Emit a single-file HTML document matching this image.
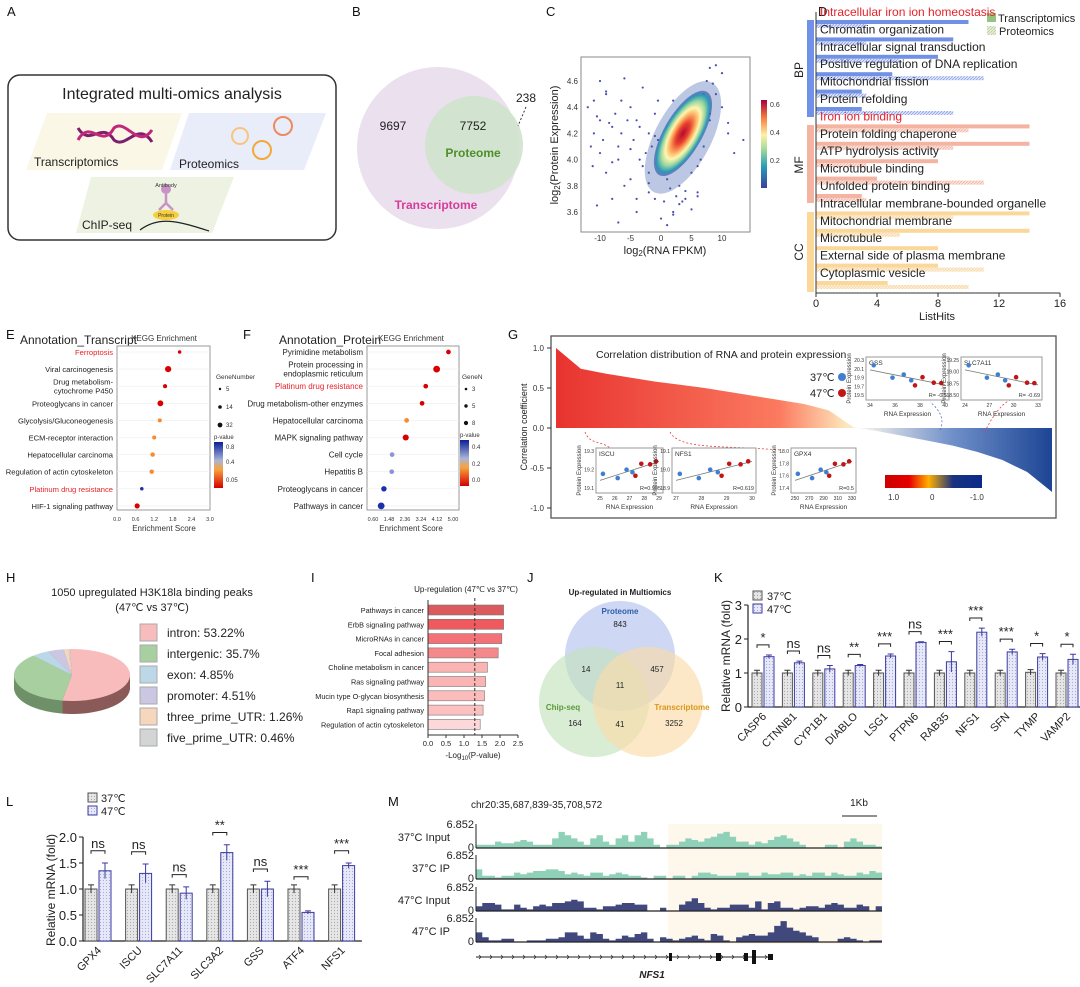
<!DOCTYPE html>
<html><head><meta charset="utf-8"><style>
html,body{margin:0;padding:0;background:#fff}
svg{display:block;font-family:"Liberation Sans",Arial,sans-serif}
</style></head><body>
<svg id="fig" width="1080" height="987" viewBox="0 0 1080 987" xmlns="http://www.w3.org/2000/svg">
<defs>
<pattern id="hatchB" width="3" height="3" patternUnits="userSpaceOnUse"><rect width="3" height="3" fill="#dfe6fb"/><path d="M0,3L3,0" stroke="#8aa0e8" stroke-width="0.8"/></pattern>
<pattern id="hatchM" width="3" height="3" patternUnits="userSpaceOnUse"><rect width="3" height="3" fill="#fbe3dc"/><path d="M0,3L3,0" stroke="#f0b3a2" stroke-width="0.8"/></pattern>
<pattern id="hatchC" width="3" height="3" patternUnits="userSpaceOnUse"><rect width="3" height="3" fill="#fdf0da"/><path d="M0,3L3,0" stroke="#f6d39c" stroke-width="0.8"/></pattern>
<pattern id="hatchG" width="3" height="3" patternUnits="userSpaceOnUse"><rect width="3" height="3" fill="#e9f0dc"/><path d="M0,3L3,0" stroke="#b9cf9d" stroke-width="0.8"/></pattern>
<pattern id="dotG" width="3" height="3" patternUnits="userSpaceOnUse"><rect width="3" height="3" fill="#e6e6e6"/><circle cx="1.5" cy="1.5" r="0.6" fill="#aaa"/></pattern>
<pattern id="dotP" width="3" height="3" patternUnits="userSpaceOnUse"><rect width="3" height="3" fill="#e8e9f8"/><circle cx="1.5" cy="1.5" r="0.6" fill="#a9acdc"/></pattern>
<linearGradient id="gCurve" x1="0" x2="1" y1="0" y2="0"><stop offset="0" stop-color="#e8332f"/><stop offset="0.45" stop-color="#fb7a60"/><stop offset="0.58" stop-color="#fde3b8"/><stop offset="0.62" stop-color="#f4f0ec"/><stop offset="0.8" stop-color="#6f8fc9"/><stop offset="1" stop-color="#1d4595"/></linearGradient>
<linearGradient id="gBar" x1="0" x2="1"><stop offset="0" stop-color="#cc0000"/><stop offset="0.25" stop-color="#e60000"/><stop offset="0.45" stop-color="#ffb000"/><stop offset="0.7" stop-color="#1a3380"/><stop offset="1" stop-color="#0a2a8a"/></linearGradient>
<linearGradient id="gC" x1="0" y1="1" x2="0" y2="0"><stop offset="0" stop-color="#3a3fa0"/><stop offset="0.25" stop-color="#2a9fb5"/><stop offset="0.45" stop-color="#a9dc9a"/><stop offset="0.6" stop-color="#fdf1a6"/><stop offset="0.8" stop-color="#f57c3c"/><stop offset="1" stop-color="#a50040"/></linearGradient>
<linearGradient id="gP" x1="0" y1="1" x2="0" y2="0"><stop offset="0" stop-color="#d40000"/><stop offset="0.4" stop-color="#f9a23c"/><stop offset="0.6" stop-color="#aab4d8"/><stop offset="1" stop-color="#0b1f96"/></linearGradient>
<radialGradient id="cloud"><stop offset="0" stop-color="#b10b32"/><stop offset="0.25" stop-color="#e8412e"/><stop offset="0.45" stop-color="#fdae61"/><stop offset="0.6" stop-color="#fef7b0"/><stop offset="0.75" stop-color="#9fd89f"/><stop offset="0.9" stop-color="#2b9bb8"/><stop offset="1" stop-color="#3b4fa8" stop-opacity="0.6"/></radialGradient>
</defs>

<!-- Panel letters -->
<g font-size="13" fill="#111">
<text x="7" y="16">A</text><text x="352" y="16">B</text><text x="546" y="16">C</text><text x="818" y="16">D</text>
<text x="6" y="339">E</text><text x="243" y="339">F</text><text x="508" y="339">G</text>
<text x="6" y="582">H</text><text x="311" y="582">I</text><text x="527" y="582">J</text><text x="714" y="582">K</text>
<text x="6" y="806">L</text><text x="388" y="806">M</text>
</g>

<!-- Panel A -->
<g>
<rect x="8" y="75" width="328" height="165" rx="12" fill="#fff" stroke="#333" stroke-width="1.5"/>
<text x="172" y="99" text-anchor="middle" font-size="16" fill="#222">Integrated multi-omics analysis</text>
<polygon points="26,170 47,113 182,113 162,170" fill="#fbf7e6"/>
<polygon points="170,170 189,113 326,113 304,170" fill="#e9ecf9"/>
<polygon points="76,233 91,177 234,177 212,233" fill="#eef2e2"/>
<path d="M78,128 C90,148 102,120 114,140 C126,150 138,120 152,142" stroke="#7b1f6e" stroke-width="3" fill="none"/>
<path d="M78,140 C90,118 102,150 114,128 C126,118 138,150 152,130" stroke="#c0287a" stroke-width="3" fill="none"/>
<g fill="none" stroke-width="2"><circle cx="240" cy="136" r="8" stroke="#f7c57d"/><circle cx="283" cy="126" r="9" stroke="#ee8b5e"/><circle cx="262" cy="150" r="9" stroke="#f2a93c"/></g>
<text x="34" y="166" font-size="12" fill="#222">Transcriptomics</text>
<text x="179" y="168" font-size="12" fill="#222">Proteomics</text>
<circle cx="166" cy="189" r="5" fill="#c893c4"/><path d="M166,194 L166,203 M166,203 L159,210 M166,203 L173,210" stroke="#c893c4" stroke-width="2.5" fill="none"/>
<text x="166" y="187" font-size="5.5" text-anchor="middle" fill="#333">Antibody</text>
<ellipse cx="166" cy="215" rx="13" ry="5" fill="#f7cf3e"/><text x="166" y="217" font-size="5" text-anchor="middle" fill="#333">Protein</text>
<path d="M140,230 C160,215 180,222 209,231" stroke="#222" stroke-width="1.3" fill="none"/>
<text x="82" y="229" font-size="12" fill="#222">ChIP-seq</text>
</g>

<!-- Panel B -->
<g>
<circle cx="438" cy="148" r="81" fill="#ebe0ee"/>
<circle cx="474" cy="145" r="49" fill="#cfe3cc" opacity="0.9"/>
<text x="393" y="130" font-size="12" text-anchor="middle" fill="#222">9697</text>
<text x="473" y="130" font-size="12" text-anchor="middle" fill="#222">7752</text>
<text x="473" y="157" font-size="12" font-weight="bold" text-anchor="middle" fill="#4f8f2a">Proteome</text>
<text x="436" y="209" font-size="12" font-weight="bold" text-anchor="middle" fill="#d63b9a">Transcriptome</text>
<text x="526" y="102" font-size="12" text-anchor="middle" fill="#222">238</text>
<path d="M526,107 L518,126" stroke="#333" stroke-dasharray="2,2"/>
</g>

<!-- Panel C -->
<g id="pc">
<rect x="581" y="57" width="169" height="175" fill="#fff" stroke="#888"/>
<text transform="translate(558,145) rotate(-90)" text-anchor="middle" font-size="11" fill="#222">log<tspan font-size="8" dy="2">2</tspan><tspan dy="-2">(Protein Expression)</tspan></text>
<text x="665" y="254" text-anchor="middle" font-size="11" fill="#222">log<tspan font-size="8" dy="2">2</tspan><tspan dy="-2">(RNA FPKM)</tspan></text>
<rect x="761" y="100" width="6" height="88" fill="url(#gC)"/>
<g font-size="7" fill="#333"><text x="770" y="107">0.6</text><text x="770" y="135">0.4</text><text x="770" y="163">0.2</text></g>
</g>

<!-- Panel D -->
<g id="pd">
<rect x="807" y="20" width="7" height="97" fill="#7191e6"/>
<rect x="807" y="125" width="7" height="78" fill="#f5b3a1"/>
<rect x="807" y="212" width="7" height="80" fill="#fcd79a"/>
<text transform="translate(803,70) rotate(-90)" text-anchor="middle" font-size="12" fill="#222">BP</text>
<text transform="translate(803,165) rotate(-90)" text-anchor="middle" font-size="12" fill="#222">MF</text>
<text transform="translate(803,252) rotate(-90)" text-anchor="middle" font-size="12" fill="#222">CC</text>
<rect x="987" y="13" width="9" height="9" fill="#94c47d"/>
<text x="998" y="22" font-size="11" fill="#222">Transcriptomics</text>
<rect x="987" y="26" width="9" height="9" fill="url(#hatchG)"/>
<text x="999" y="35" font-size="11" fill="#222">Proteomics</text>
<text x="937" y="320" text-anchor="middle" font-size="11" fill="#222">ListHits</text>
</g>

<!-- Panel E & F -->
<g id="pe">
<text x="20" y="344" font-size="12" fill="#222">Annotation_Transcript</text>
<text x="164" y="341" font-size="8" text-anchor="middle" fill="#333">KEGG Enrichment</text>
<rect x="117" y="346" width="93" height="164" fill="#fff" stroke="#999"/>
<text x="164" y="531" font-size="8" text-anchor="middle" fill="#333">Enrichment Score</text>
<text x="216" y="379" font-size="6.5" fill="#333">GeneNumber</text>
<circle cx="220" cy="389" r="1.2" fill="#111"/><text x="226" y="391" font-size="6" fill="#333">5</text>
<circle cx="220" cy="407" r="1.8" fill="#111"/><text x="226" y="409" font-size="6" fill="#333">14</text>
<circle cx="220" cy="425" r="2.4" fill="#111"/><text x="226" y="427" font-size="6" fill="#333">32</text>
<text x="214" y="439" font-size="6" fill="#333">p-value</text>
<rect x="214" y="442" width="9" height="46" fill="url(#gP)"/>
<g font-size="6" fill="#333"><text x="226" y="449">0.8</text><text x="226" y="464">0.4</text><text x="226" y="482">0.05</text></g>
</g>
<g id="pf">
<text x="279" y="344" font-size="12" fill="#222">Annotation_Protein</text>
<text x="411" y="341" font-size="8" text-anchor="middle" fill="#333">KEGG Enrichment</text>
<rect x="367" y="346" width="92" height="164" fill="#fff" stroke="#999"/>
<text x="411" y="531" font-size="8" text-anchor="middle" fill="#333">Enrichment Score</text>
<text x="462" y="379" font-size="6.5" fill="#333">GeneN</text>
<circle cx="466" cy="389" r="1.3" fill="#111"/><text x="472" y="391" font-size="6" fill="#333">3</text>
<circle cx="466" cy="406" r="1.7" fill="#111"/><text x="472" y="408" font-size="6" fill="#333">5</text>
<circle cx="466" cy="423" r="2.1" fill="#111"/><text x="472" y="425" font-size="6" fill="#333">8</text>
<text x="460" y="437" font-size="6" fill="#333">p-value</text>
<rect x="460" y="440" width="9" height="46" fill="url(#gP)"/>
<g font-size="6" fill="#333"><text x="472" y="449">0.4</text><text x="472" y="466">0.2</text><text x="472" y="482">0.0</text></g>
</g>

<!-- Panel G -->
<g id="pg">
<rect x="551" y="336" width="505" height="182" fill="#fff" stroke="#555" stroke-width="1.3"/>
<text transform="translate(527,427) rotate(-90)" text-anchor="middle" font-size="9" fill="#222">Correlation coefficient</text>
<text x="596" y="358" font-size="10.5" fill="#222">Correlation distribution of RNA and protein expression</text>
<text x="810" y="381" font-size="11" fill="#222">37℃</text><circle cx="842" cy="377" r="4" fill="#3f7fd0"/>
<text x="810" y="397" font-size="11" fill="#222">47℃</text><circle cx="842" cy="393" r="4" fill="#c01616"/>
<rect x="885" y="475" width="97" height="13" fill="url(#gBar)"/>
<g font-size="8" fill="#333"><text x="888" y="500">1.0</text><text x="930" y="500">0</text><text x="970" y="500">-1.0</text></g>
</g>

<!-- Panel H -->
<g id="ph">
<text x="152" y="596" font-size="11" text-anchor="middle" fill="#222">1050 upregulated H3K18la binding peaks</text>
<text x="152" y="611" font-size="11" text-anchor="middle" fill="#222">(47℃ vs 37℃)</text>
</g>

<!-- Panel I -->
<g id="pi">
<text x="466" y="592" font-size="8" text-anchor="middle" fill="#222">Up-regulation (47℃ vs 37℃)</text>
<text x="473" y="758" font-size="8" text-anchor="middle" fill="#222">-Log<tspan font-size="6" dy="2">10</tspan><tspan dy="-2">(P-value)</tspan></text>
</g>

<!-- Panel J -->
<g>
<text x="620" y="595" font-size="8" font-weight="bold" text-anchor="middle" fill="#222">Up-regulated in Multiomics</text>
<circle cx="620" cy="656" r="55" fill="#b9c6f0" opacity="0.7"/>
<circle cx="594" cy="702" r="55" fill="#c5e2bd" opacity="0.65"/>
<circle cx="648" cy="702" r="55" fill="#fbdca9" opacity="0.65"/>
<g font-size="8" fill="#222" text-anchor="middle">
<text x="620" y="614" font-weight="bold" fill="#2f5fa6">Proteome</text><text x="620" y="627">843</text>
<text x="586" y="672">14</text><text x="657" y="672">457</text><text x="620" y="688">11</text>
<text x="563" y="710" font-weight="bold" fill="#5a9a3a">Chip-seq</text><text x="575" y="726">164</text>
<text x="620" y="727">41</text>
<text x="682" y="710" font-weight="bold" fill="#d9961a">Transcriptome</text><text x="674" y="726">3252</text>
</g>
</g>

<!-- Panels K, L, M containers -->
<g id="pk">
<text transform="translate(730,656) rotate(-90)" text-anchor="middle" font-size="12" fill="#222">Relative mRNA (fold)</text>
<rect x="753" y="591" width="9" height="9" fill="url(#dotG)" stroke="#555"/><text x="767" y="600" font-size="11" fill="#222">37℃</text>
<rect x="753" y="604" width="9" height="9" fill="url(#dotP)" stroke="#3a3aa0"/><text x="767" y="613" font-size="11" fill="#222">47℃</text>
</g>
<g id="pl">
<text transform="translate(55,890) rotate(-90)" text-anchor="middle" font-size="12" fill="#222">Relative mRNA (fold)</text>
<rect x="88" y="793" width="9" height="9" fill="url(#dotG)" stroke="#555"/><text x="101" y="802" font-size="11" fill="#222">37℃</text>
<rect x="88" y="806" width="9" height="9" fill="url(#dotP)" stroke="#3a3aa0"/><text x="101" y="815" font-size="11" fill="#222">47℃</text>
</g>
<g id="pm">
<text x="471" y="808" font-size="10" fill="#222">chr20:35,687,839-35,708,572</text>
<text x="859" y="806" font-size="10" text-anchor="middle" fill="#222">1Kb</text>
<line x1="842" y1="816" x2="877" y2="816" stroke="#222"/>
<rect x="668" y="824" width="214" height="120" fill="#fdf7ec"/>
<text x="652" y="978" font-size="10" font-style="italic" font-weight="bold" text-anchor="middle" fill="#222">NFS1</text>
</g>
</svg>
<script>
const NS='http://www.w3.org/2000/svg';
function mk(tag,a,p){const e=document.createElementNS(NS,tag);for(const k in a)e.setAttribute(k,a[k]);p.appendChild(e);return e;}
function tx(x,y,s,a,p){const e=mk('text',Object.assign({x:x,y:y},a),p);e.textContent=s;return e;}

/* ---------- C scatter ---------- */
const cXTicks=[-10,-5,0,5,10];
const cYTicks=[3.6,3.8,4.0,4.2,4.4,4.6];
const cOutX=[-11,-10.5,-10,-11.5,-9,-8,-7.5,-6,-5,-4,-3,-2,-1,-11,-10,-9.5,-8.5,-7,-6.5,-5.5,-4.5,-3.5,-2.5,-1.5,-0.5,-11.2,-9,-7,-5,-3,-2,-10.5,-8,-6,-4,-1,-12,-10,-8,-3.5,-2,0,1,2,3,5,6,7,8,9,10,11,12,13.5,-6.5,-7,-4,-2,0.5,2,4,6,8,10,11,-9,-5,-1,1,1.5,2.5,3,4,5,6.5,7,8,9,0,-0.5,1,2,3.5,6,7.5,8.5];
const cOutY=[4.45,4.33,4.6,4.1,4.5,4.25,4.35,4.62,4.4,4.3,4.55,4.2,4.35,4.2,4.05,4.15,4.28,4.1,4.2,4.3,4.15,4.25,4.05,4.1,4.45,3.95,3.9,4.0,3.85,3.95,3.75,3.65,3.7,3.8,3.6,3.7,4.4,4.3,3.98,4.0,3.9,3.55,3.5,3.6,3.66,3.62,3.75,4.5,4.7,4.72,4.66,4.28,4.05,4.15,4.45,3.52,3.7,3.82,3.68,3.58,3.7,3.72,4.35,4.4,4.2,4.52,4.08,4.18,3.85,3.78,3.72,3.8,3.76,3.9,4.0,4.1,4.3,4.5,4.0,4.15,4.25,4.45,3.68,3.95,4.6,4.58];
(function(){
 const g=document.getElementById('pc');
 const X=v=>661+v*6.1, Y=v=>81+(4.6-v)*131;
 for(const t of cXTicks){const e=tx(X(t),241,String(t),{'font-size':8,'text-anchor':'middle',fill:'#333'},g);
  
  }
 for(const t of cYTicks){const e=tx(578,Y(t)+3,t.toFixed(1),{'font-size':8,'text-anchor':'end',fill:'#333'},g);
  
  }
 for(let i=0;i<cOutX.length;i++){const e=mk('circle',{cx:X(cOutX[i]),cy:Y(cOutY[i]),r:1.1,fill:'#4a4fb0'},g);
  
  }
 const cx=X(3.6),cy=Y(4.2);
 const halo=mk('ellipse',{cx:cx,cy:cy+4,rx:62,ry:28,fill:'#3b5fb0',opacity:0.35,transform:'rotate(-62 '+cx+' '+(cy+4)+')'},g);
 
 
 const cl=mk('ellipse',{cx:cx,cy:cy,rx:48,ry:19,fill:'url(#cloud)',transform:'rotate(-60 '+cx+' '+cy+')'},g);
 
 
})();

/* ---------- D bars ---------- */
const dTerms=['Intracellular iron ion homeostasis','Chromatin organization','Intracellular signal transduction','Positive regulation of DNA replication','Mitochondrial fission','Protein refolding','Iron ion binding','Protein folding chaperone','ATP hydrolysis activity','Microtubule binding','Unfolded protein binding','Intracellular membrane-bounded organelle','Mitochondrial membrane','Microtubule','External side of plasma membrane','Cytoplasmic vesicle'];
const dGroup=['BP','BP','BP','BP','BP','BP','MF','MF','MF','MF','MF','CC','CC','CC','CC','CC'];
const dTrans=[10,9,8,5,3,3,14,14,8,4,3,14,14,8,8,4.7];
const dProt=[3.3,3.3,5.5,11,3.3,9,10,9,3.3,11,3.3,9,5.5,0,11,10];
const dTicks=[0,4,8,12,16];
(function(){
 const g=document.getElementById('pd');
 const X=v=>816+v*15.25;
 const solid={BP:'#7191e6',MF:'#f5b3a1',CC:'#fcd79a'}, hatch={BP:'url(#hatchB)',MF:'url(#hatchM)',CC:'url(#hatchC)'};
 for(let i=0;i<dTerms.length;i++){
  const y=15+i*17.4;
  const b1=mk('rect',{x:816,y:y+5,width:X(dTrans[i])-816,height:4,fill:solid[dGroup[i]]},g);
  
  
  const b2=mk('rect',{x:816,y:y+9,width:X(dProt[i])-816,height:4,fill:hatch[dGroup[i]]},g);
  
  
  const red=(i===0||i===6);
  const t=tx(820,y+1,dTerms[i],{'font-size':12,fill:red?'#e8222a':'#222'},g);
  
  
 }
 mk('line',{x1:816,y1:12,x2:816,y2:293,stroke:'#333'},g);
 mk('line',{x1:816,y1:293,x2:1060,y2:293,stroke:'#333'},g);
 for(const t of dTicks){mk('line',{x1:X(t),y1:293,x2:X(t),y2:297,stroke:'#333'},g);
  const e=tx(X(t),307,String(t),{'font-size':11,'text-anchor':'middle',fill:'#222'},g);
  
  }
})();

/* ---------- E / F dot plots ---------- */
const eTerms=['Ferroptosis','Viral carcinogenesis','Drug metabolism-|cytochrome P450','Proteoglycans in cancer','Glycolysis/Gluconeogenesis','ECM-receptor interaction','Hepatocellular carcinoma','Regulation of actin cytoskeleton','Platinum drug resistance','HIF-1 signaling pathway'];
const eScore=[2.02,1.65,1.55,1.4,1.38,1.2,1.15,1.12,0.8,0.65];
const ePval=[0.01,0.02,0.05,0.03,0.3,0.35,0.35,0.35,0.9,0.02];
const eCount=[5,20,8,18,8,8,10,10,5,14];
const eTicks=[0.0,0.6,1.2,1.8,2.4,3.0];
const fTerms=['Pyrimidine metabolism','Protein processing in|endoplasmic reticulum','Platinum drug resistance','Drug metabolism-other enzymes','Hepatocellular carcinoma','MAPK signaling pathway','Cell cycle','Hepatitis B','Proteoglycans in cancer','Pathways in cancer'];
const fScore=[4.75,4.1,3.5,3.3,2.45,2.4,1.65,1.63,1.2,1.05];
const fPval=[0.01,0.01,0.03,0.05,0.2,0.05,0.35,0.35,0.45,0.48];
const fCount=[3,6,3,3,3,5,3,3,4,6];
const fTicks=[0.60,1.48,2.36,3.24,4.12,5.00];
function pcol(p,max){const t=Math.min(p/max,1);
 if(t<0.15)return '#d80000'; if(t<0.45)return '#f68a2c'; if(t<0.7)return '#f9b35a'; if(t<0.85)return '#8c93d8'; return '#1b2fae';}
function dotPlot(id,terms,score,pval,count,ticks,x0,x1,vmin,vmax,pmax,rs,redIdx,fs){
 const g=document.getElementById(id);
 const X=v=>x0+(v-vmin)/(vmax-vmin)*(x1-x0);
 const bx0=(id==='pe'?117:367), bx1=(id==='pe'?210:459);
 for(let i=0;i<terms.length;i++){
  const y=352+i*17.1;
  const parts=terms[i].split('|');
  const col=redIdx.includes(i)?'#e8222a':'#222';
  for(let k=0;k<parts.length;k++){
   const t=tx(bx0-4,y+3+(k-(parts.length-1)/2)*9,parts[k],{'font-size':fs,'text-anchor':'end',fill:col},g);
   
   
  }
  mk('line',{x1:bx0,x2:bx1,y1:y,y2:y,stroke:'#eee','stroke-width':0.6},g);
  const c=mk('circle',{cx:X(score[i]),cy:y,r:1.3+count[i]*rs,fill:pcol(pval[i],pmax)},g);
  
  
 }
 for(const t of ticks){const e=tx(X(t),521,t.toFixed(id==='pe'?1:2),{'font-size':5.5,'text-anchor':'middle',fill:'#333'},g);
  
  }
}
dotPlot('pe',eTerms,eScore,ePval,eCount,eTicks,117,210,0,3,0.9,0.09,[0,8],7.6);
dotPlot('pf',fTerms,fScore,fPval,fCount,fTicks,373,453,0.6,5.0,0.48,0.35,[2],8);

/* ---------- G correlation curve ---------- */
const gCorr=[1.0,0.74,0.68,0.63,0.58,0.54,0.5,0.45,0.4,0.35,0.3,0.22,0.01,-0.04,-0.1,-0.16,-0.22,-0.3,-0.4,-0.55,-0.8];
const gTicks=[1.0,0.5,0.0,-0.5,-1.0];
const gInsets=[
 {name:'GSS',x:866,y:357,w:83,h:43,r:'R= -0.5',xt:['34','36','38','40'],yt:['20.3','20.1','19.9','19.7','19.5'],up:false},
 {name:'SLC7A11',x:961,y:357,w:81,h:43,r:'R= -0.69',xt:['24','27','30','33'],yt:['19.25','19.00','18.75','18.50'],up:false},
 {name:'ISCU',x:596,y:448,w:67,h:45,r:'R=0.905',xt:['25','26','27','28','29'],yt:['19.3','19.2','19.1'],up:true},
 {name:'NFS1',x:672,y:448,w:84,h:45,r:'R=0.619',xt:['27','28','29','30'],yt:['19.1','19.0','18.9'],up:true},
 {name:'GPX4',x:791,y:448,w:65,h:45,r:'R=0.5',xt:['250','270','290','310','330'],yt:['18.0','17.8','17.6','17.4'],up:true}];
const gDotsX=[0.05,0.3,0.45,0.55,0.6,0.7,0.85,0.95];
const gDotsY=[0.2,0.6,0.35,0.55,0.75,0.3,0.45,0.4];
(function(){
 const g=document.getElementById('pg');
 const x0=556,x1=1052,Y=v=>428-v*80;
 let d='M'+x0+','+Y(0);
 gCorr.forEach((v,i)=>{d+=' L'+(x0+i*(x1-x0)/(gCorr.length-1)).toFixed(1)+','+Y(v).toFixed(1);});
 d+=' L'+x1+','+Y(0)+'Z';
 const a=mk('path',{d:d,fill:'url(#gCurve)'},g);
 
 
 for(const t of gTicks){mk('line',{x1:547,x2:551,y1:Y(t),y2:Y(t),stroke:'#333'},g);
  const e=tx(544,Y(t)+3,t.toFixed(1),{'font-size':8,'text-anchor':'end',fill:'#333'},g);
  
  }
 mk('path',{d:'M585,432 C590,445 600,440 610,448 M670,432 C680,450 720,445 780,450 M985,432 C990,420 1000,405 1010,400',stroke:'#e04040','stroke-dasharray':'2,2',fill:'none','stroke-width':0.8},g);
 mk('path',{d:'M940,430 C945,420 940,410 930,402',stroke:'#5070c0','stroke-dasharray':'2,2',fill:'none','stroke-width':0.8},g);
 for(const ins of gInsets){
  const gi=mk('g',{},g);
  
  
  mk('rect',{x:ins.x,y:ins.y,width:ins.w,height:ins.h,fill:'#fff',stroke:'#999'},gi);
  tx(ins.x+3,ins.y+8,ins.name,{'font-size':6.5,fill:'#333'},gi);
  tx(ins.x+ins.w-2,ins.y+ins.h-3,ins.r,{'font-size':5.5,'text-anchor':'end',fill:'#333'},gi);
  tx(ins.x+ins.w/2,ins.y+ins.h+16,'RNA Expression',{'font-size':6.5,'text-anchor':'middle',fill:'#333'},gi);
  tx(0,0,'Protein Expression',{'font-size':6,'text-anchor':'middle',fill:'#333',transform:'translate('+(ins.x-15)+','+(ins.y+ins.h/2)+') rotate(-90)'},gi);
  ins.xt.forEach((s,k)=>tx(ins.x+4+k*(ins.w-8)/(ins.xt.length-1),ins.y+ins.h+7,s,{'font-size':5,'text-anchor':'middle',fill:'#333'},gi));
  ins.yt.forEach((s,k)=>tx(ins.x-2,ins.y+5+k*(ins.h-8)/(ins.yt.length-1),s,{'font-size':5,'text-anchor':'end',fill:'#333'},gi));
  const ly1=ins.up?ins.y+ins.h*0.72:ins.y+ins.h*0.3, ly2=ins.up?ins.y+ins.h*0.3:ins.y+ins.h*0.65;
  mk('line',{x1:ins.x+4,y1:ly1,x2:ins.x+ins.w-4,y2:ly2,stroke:'#777','stroke-width':0.8},gi);
  for(let k=0;k<gDotsX.length;k++){
   const px=ins.x+4+gDotsX[k]*(ins.w-8);
   const base=ly1+(ly2-ly1)*gDotsX[k];
   const c=mk('circle',{cx:px,cy:base+(gDotsY[k]-0.45)*ins.h*0.5,r:2.3,fill:(k<4)?'#3f7fd0':'#c01616'},gi);
   
   
  }
 }
})();

/* ---------- H pie ---------- */
const hLabels=['intron: 53.22%','intergenic: 35.7%','exon: 4.85%','promoter: 4.51%','three_prime_UTR: 1.26%','five_prime_UTR: 0.46%'];
const hValues=[53.22,35.7,4.85,4.51,1.26,0.46];
(function(){
 const g=document.getElementById('ph');
 const cols=['#f9bcbc','#a8cf9f','#bcd8e8','#cbc6e2','#f6d6bd','#d3d5d5'];
 const dark=['#8a5a58','#6f9068','#7f9aa8','#8a86a2','#b0967e','#909292'];
 const cx=72,cy=675,rx=58,ry=26,dep=13;
 const tot=hValues.reduce((a,b)=>a+b,0);
 function arc(a0,a1,dy){const p0=[cx+rx*Math.cos(a0),cy+dy+ry*Math.sin(a0)],p1=[cx+rx*Math.cos(a1),cy+dy+ry*Math.sin(a1)];
  return 'M'+cx+','+(cy+dy)+' L'+p0+' A'+rx+','+ry+' 0 '+((a1-a0)>Math.PI?1:0)+' 1 '+p1+' Z';}
 for(let dy=dep;dy>0;dy--){let a=-92*Math.PI/180;
  hValues.forEach((v,i)=>{const a1=a+v/tot*2*Math.PI;mk('path',{d:arc(a,a1,dy),fill:dark[i]},g);a=a1;});}
 let a=-92*Math.PI/180;
 hValues.forEach((v,i)=>{const a1=a+v/tot*2*Math.PI;
  const s=mk('path',{d:arc(a,a1,0),fill:cols[i]},g);
  
  
  a=a1;});
 hLabels.forEach((l,i)=>{const y=624+i*21;
  const r=mk('rect',{x:140,y:y,width:17,height:17,fill:cols[i],stroke:'#aaa'},g);
  
  
  const t=tx(167,y+13,l,{'font-size':12,fill:'#222'},g);
  
  });
})();

/* ---------- I bars ---------- */
const iTerms=['Pathways in cancer','ErbB signaling pathway','MicroRNAs in cancer','Focal adhesion','Choline metabolism in cancer','Ras signaling pathway','Mucin type O-glycan biosynthesis','Rap1 signaling pathway','Regulation of actin cytoskeleton'];
const iValues=[2.1,2.1,2.05,1.95,1.65,1.6,1.57,1.53,1.45];
const iTicks=[0.0,0.5,1.0,1.5,2.0,2.5];
(function(){
 const g=document.getElementById('pi');
 const X=v=>428+v*36;
 const cols=['#db5a5e','#f0595e','#f47277','#f5888b','#fbb4b4','#fbb4b4','#fcbcbc','#fcc0c0','#fdd8da'];
 iTerms.forEach((t,i)=>{const y=610+i*14.3;
  const b=mk('rect',{x:428,y:y-5,width:X(iValues[i])-428,height:10,fill:cols[i],stroke:'#777','stroke-width':0.6},g);
  
  
  const l=tx(424,y+3,t,{'font-size':7.3,'text-anchor':'end',fill:'#222'},g);
  
  });
 mk('line',{x1:428,y1:600,x2:428,y2:735,stroke:'#333'},g);
 mk('line',{x1:428,y1:735,x2:518,y2:735,stroke:'#333'},g);
 mk('line',{x1:X(1.3),y1:598,x2:X(1.3),y2:735,stroke:'#333','stroke-dasharray':'3,2'},g);
 for(const t of iTicks){mk('line',{x1:X(t),x2:X(t),y1:735,y2:738,stroke:'#333'},g);
  const e=tx(X(t),746,t.toFixed(1),{'font-size':7.5,'text-anchor':'middle',fill:'#222'},g);
  
  }
})();

/* ---------- K / L qPCR bars ---------- */
const kGenes=['CASP6','CTNNB1','CYP1B1','DIABLO','LSG1','PTPN6','RAB35','NFS1','SFN','TYMP','VAMP2'];
const k37=[1.0,1.0,1.0,1.0,1.0,1.0,1.0,1.0,1.0,1.02,1.0];
const k47=[1.48,1.3,1.12,1.22,1.5,1.9,1.33,2.2,1.62,1.47,1.4];
const k47err=[0.05,0.05,0.1,0.03,0.06,0.02,0.3,0.12,0.08,0.1,0.15];
const kSig=['*','ns','ns','**','***','ns','***','***','***','*','*'];
const kTicks=[0,1,2,3];
const lGenes=['GPX4','ISCU','SLC7A11','SLC3A2','GSS','ATF4','NFS1'];
const l37=[1.0,1.0,1.0,1.0,1.0,1.0,1.0];
const l47=[1.35,1.3,0.92,1.7,1.0,0.55,1.45];
const l47err=[0.15,0.18,0.12,0.15,0.15,0.03,0.05];
const lSig=['ns','ns','ns','**','ns','***','***'];
const lTicks=[0.0,0.5,1.0,1.5,2.0];
function qpcr(id,genes,v37,v47,e47,sig,ticks,ax,c0,sp,y0,ppu,bw,top,dec){
 const g=document.getElementById(id);
 const Y=v=>y0-v*ppu;
 mk('line',{x1:ax,y1:Y(ticks[ticks.length-1]),x2:ax,y2:y0,stroke:'#222','stroke-width':1.2},g);
 mk('line',{x1:ax,y1:y0,x2:c0+(genes.length-1)*sp+sp/2,y2:y0,stroke:'#222','stroke-width':1.2},g);
 for(const t of ticks){mk('line',{x1:ax-4,x2:ax,y1:Y(t),y2:Y(t),stroke:'#222'},g);
  const e=tx(ax-6,Y(t)+5,t.toFixed(dec),{'font-size':13,'text-anchor':'end',fill:'#222'},g);
  
  }
 genes.forEach((gn,i)=>{const c=c0+i*sp;
  const b1=mk('rect',{x:c-bw-1,y:Y(v37[i]),width:bw,height:y0-Y(v37[i]),fill:'url(#dotG)',stroke:'#555'},g);
  
  
  const b2=mk('rect',{x:c+1,y:Y(v47[i]),width:bw,height:y0-Y(v47[i]),fill:'url(#dotP)',stroke:'#3a3aa0'},g);
  
  
  const ex=c+1+bw/2;
  mk('path',{d:'M'+ex+','+Y(v47[i]-e47[i])+'V'+Y(v47[i]+e47[i])+'M'+(ex-3)+','+Y(v47[i]+e47[i])+'h6',stroke:'#3a3aa0',fill:'none'},g);
  const dx=c-1-bw/2;
  mk('path',{d:'M'+dx+','+Y(v37[i]-0.08)+'V'+Y(v37[i]+0.08)+'M'+(dx-3)+','+Y(v37[i]+0.08)+'h6',stroke:'#333',fill:'none'},g);
  const sy=Y(Math.max(v47[i]+e47[i],v37[i])+0.12)-6;
  mk('path',{d:'M'+(c-bw/2-1)+','+(sy+3)+'V'+sy+'H'+(c+bw/2+1)+'V'+(sy+3),stroke:'#222',fill:'none'},g);
  const s=tx(c,sy-3,sig[i],{'font-size':13,'text-anchor':'middle',fill:'#222'},g);
  
  
  const l=tx(0,0,gn,{'font-size':11,'text-anchor':'end',fill:'#222',transform:'translate('+(c+4)+','+(y0+10)+') rotate(-45)'},g);
  
  
 });
}
qpcr('pk',kGenes,k37,k47,k47err,kSig,kTicks,748,763,30.4,707,34,10,605,0);
qpcr('pl',lGenes,l37,l47,l47err,lSig,lTicks,83,98,40.6,941,52,12,837,1);

/* ---------- M tracks ---------- */
const mTrackNames=['37°C Input','37°C IP','47°C Input','47°C IP'];
const m37Input=[1,1,1,2,1.5,1.5,2,2.5,2,1,1,1,3,5,4,3,2,1,3,4,2,1,3,4,2,4,5,3,1,0,1,1,2,3,2.5,2,3,3.5,4.5,5,3.5,2,2,1,2,1.5,2.5,3.5,4,3,2,1,0,0,0,1,1,0,2,3,2,1,1,0.5];
const m37IP=[3,1,1,0.5,1,1,2,1.5,2,2.5,2.5,3,3,2.5,1.5,2,1.5,1,2,2,1,1.5,2,1.5,1,1,0.5,0,1,1,0,1,1,0,1,2,2,1.5,1,1,1,2,2,1,1,2,1.5,1.5,2,2,1,1.5,1,2,2,1,2,1.5,1,1,2,1.5,2.5,2];
const m47Input=[1.5,2.5,2.5,2,0.5,0.5,2,1,0.5,1.5,2,1.5,2.5,2.5,3,3.5,3,1,1,0.5,1.5,1.5,2,2.5,2.5,2,2,0,0,1,0,0,2,3,4,2.5,1,0.5,1,1,2,2,2,1,3,0.5,2.5,3,1,1,0.5,1,1.5,1.5,1,2,2.5,2,1,1,2,1.5,0,1.5];
const m47IP=[3,1.5,0.5,0.5,1,1,0,0,0.5,0.5,0.5,1,1,1.5,3,3,2,1,3,2.5,1,0.5,1,2,1.5,2.5,3,1,0,1.5,1,0.5,1,1.5,2,1,0.5,2.5,2,0.5,0,1.5,2,2.5,2,2,3,5,6.5,4.5,3.5,3,2,1.5,0,0,0,1,1.5,1,0.5,0,0.5,0.5];
(function(){
 const g=document.getElementById('pm');
 const tracks=[m37Input,m37IP,m47Input,m47IP];
 const base=[848,879,911,942], x0=476, x1=882, maxV=6.852, hh=22;
 const cols=['#8fd1b8','#8fd1b8','#2c3470','#2c3470'];
 tracks.forEach((arr,t)=>{
  const bw=(x1-x0)/arr.length;
  let d='M'+x0+','+base[t];
  arr.forEach((v,i)=>{const y=base[t]-v/maxV*hh;d+=' V'+y.toFixed(1)+' H'+(x0+(i+1)*bw).toFixed(1);});
  d+=' V'+base[t]+' Z';
  const p=mk('path',{d:d,fill:cols[t],opacity:(t>=2?0.9:1)},g);
  
  
  mk('line',{x1:x0,y1:base[t],x2:x1,y2:base[t],stroke:'#222','stroke-width':1.2},g);
  mk('line',{x1:x0,y1:base[t],x2:x0,y2:base[t]-hh-2,stroke:'#222'},g);
  tx(x0-2,base[t]-hh+2,'6.852',{'font-size':11,'text-anchor':'end',fill:'#222'},g);
  tx(x0-2,base[t]+3,'0',{'font-size':11,'text-anchor':'end',fill:'#222'},g);
  const l=tx(x0-26,base[t]-7,mTrackNames[t],{'font-size':11,'text-anchor':'end',fill:'#222'},g);
  
  
 });
 mk('line',{x1:x0,y1:957,x2:773,y2:957,stroke:'#222'},g);
 for(let x=x0+3;x<770;x+=11)mk('path',{d:'M'+x+',955 l2,2 l-2,2',stroke:'#222',fill:'none','stroke-width':0.7},g);
 [[669,3,8],[716,5,8],[744,4,8],[752,4,14],[768,5,6]].forEach(e=>mk('rect',{x:e[0],y:957-e[2]/2,width:e[1],height:e[2],fill:'#111'},g));
})();
</script>
</body></html>
